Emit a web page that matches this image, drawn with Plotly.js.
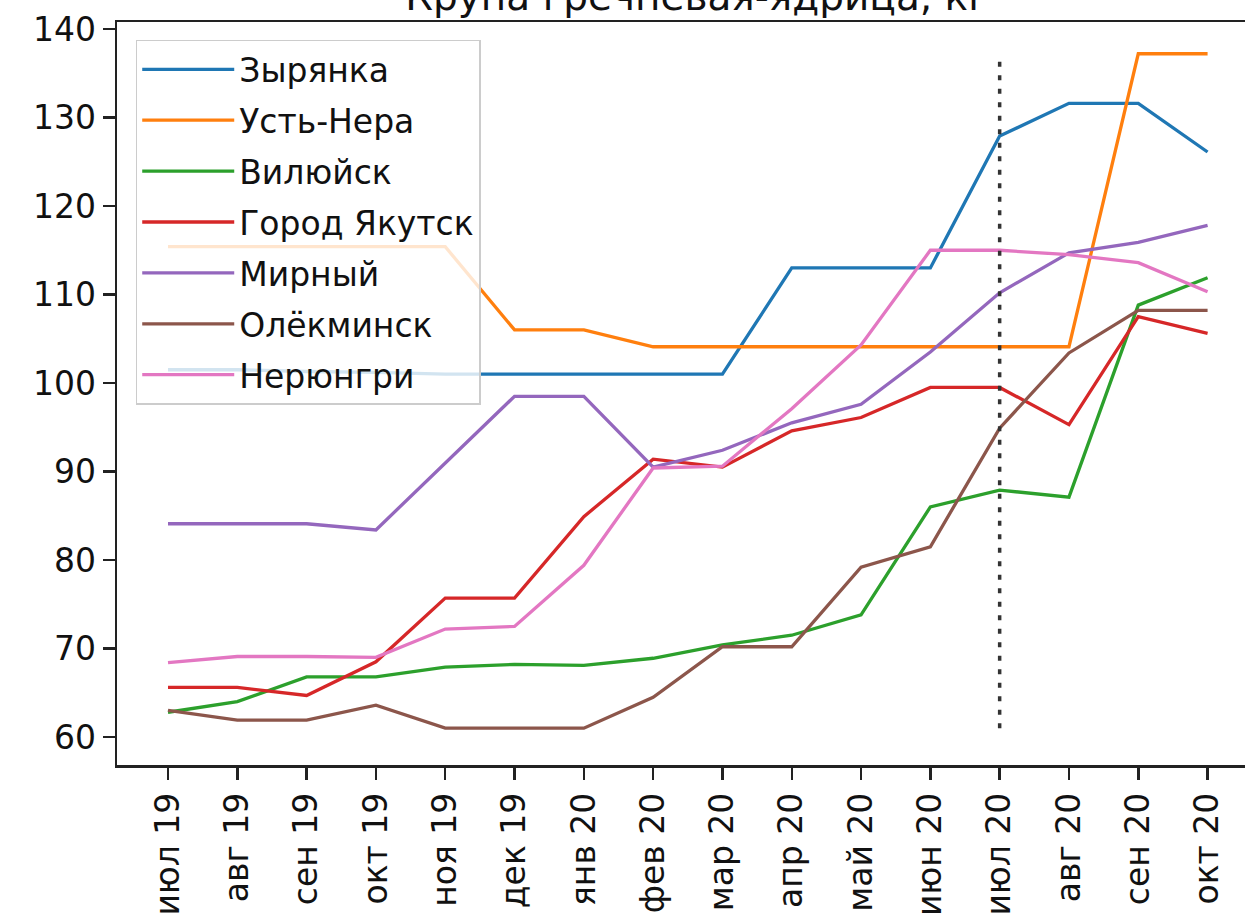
<!DOCTYPE html>
<html>
<head>
<meta charset="utf-8">
<script src="https://cdn.plot.ly/plotly-3.0.1.min.js"></script>
<style>html,body{margin:0;padding:0;background:#fff;}#chart{width:1245px;height:918px;}</style>
</head>
<body>
<div id="chart"></div>
<script>
const months = ['июл 19','авг 19','сен 19','окт 19','ноя 19','дек 19','янв 20','фев 20','мар 20','апр 20','май 20','июн 20','июл 20','авг 20','сен 20','окт 20'];

const zyryanka   = [101.5,101.5,101.3,101.2,101.0,101.0,101.0,101.0,101.0,113.0,113.0,113.0,127.9,131.6,131.6,126.1];
const ustNera    = [115.4,115.4,115.4,115.4,115.4,106.0,106.0,104.1,104.1,104.1,104.1,104.1,104.1,104.1,137.2,137.2];
const vilyuysk   = [62.8,64.0,66.8,66.8,67.9,68.2,68.1,68.9,70.4,71.5,73.8,86.0,87.9,87.1,108.8,111.9];
const yakutsk    = [65.6,65.6,64.7,68.5,75.7,75.7,84.9,91.4,90.5,94.6,96.1,99.5,99.5,95.3,107.5,105.6];
const mirny      = [84.1,84.1,84.1,83.4,91.0,98.5,98.5,90.5,92.4,95.5,97.6,103.5,110.2,114.7,115.9,117.8];
const olekminsk  = [63.0,61.9,61.9,63.6,61.0,61.0,61.0,64.5,70.2,70.2,79.2,81.5,94.9,103.4,108.2,108.2];
const neryungri  = [68.4,69.1,69.1,69.0,72.2,72.5,79.4,90.4,90.6,97.1,104.3,115.0,115.0,114.5,113.6,110.3];

const seriesNames = ['Зырянка','Усть-Нера','Вилюйск','Город Якутск','Мирный','Олёкминск','Нерюнгри'];
const seriesValues = [zyryanka, ustNera, vilyuysk, yakutsk, mirny, olekminsk, neryungri];
const colors = ['#1f77b4','#ff7f0e','#2ca02c','#d62728','#9467bd','#8c564b','#e377c2'];

const vlineMonth = 'июл 20';
const vlineRange = [61.0, 136.4];

const traces = seriesNames.map((n, i) => ({
  type: 'scatter', mode: 'lines', name: n, x: months, y: seriesValues[i],
  line: {color: colors[i], width: 3.3}, legendgroup: 'g' + i
}));
traces.push({
  type: 'scatter', mode: 'lines', x: [vlineMonth, vlineMonth], y: vlineRange,
  line: {color: '#333333', width: 3.5, dash: '5px,8.5px'}, showlegend: false, hoverinfo: 'skip'
});

const font = {family: 'DejaVu Sans, sans-serif', color: '#111', size: 33};
const layout = {
  width: 1245, height: 918,
  margin: {l: 117, r: 0, t: 22, b: 153},
  paper_bgcolor: '#fff', plot_bgcolor: '#fff',
  font: font,
  showlegend: true,
  title: {text: 'Крупа гречневая-ядрица, кг', font: {family: 'DejaVu Sans, sans-serif', size: 39, color: '#111'},
          x: 697/1245, xanchor: 'center', xref: 'container', y: 1 - 10/918, yanchor: 'bottom', yref: 'container'},
  xaxis: {
    type: 'category', range: [-0.736, 15.54], showgrid: false, zeroline: false,
    showline: true, mirror: true, linecolor: '#222', linewidth: 2.5,
    ticks: 'outside', ticklen: 12, tickwidth: 2.5, tickcolor: '#222', tickangle: -90,
    tickfont: font
  },
  yaxis: {
    range: [56.84, 140.79], showgrid: false, zeroline: false,
    showline: true, mirror: false, linecolor: '#222', linewidth: 2.5,
    ticks: 'outside', ticklen: 12, tickwidth: 2.5, tickcolor: '#222',
    tickvals: [60,70,80,90,100,110,120,130,140], tickfont: font
  },
  legend: {
    x: 0.0166, y: 0.976, xanchor: 'left', yanchor: 'top',
    bgcolor: 'rgba(255,255,255,0.8)', bordercolor: '#cccccc', borderwidth: 1.5,
    font: font, itemwidth: 92, tracegroupgap: 5
  }
};

Plotly.newPlot('chart', traces, layout, {displayModeBar: false, staticPlot: true});
</script>
</body>
</html>
